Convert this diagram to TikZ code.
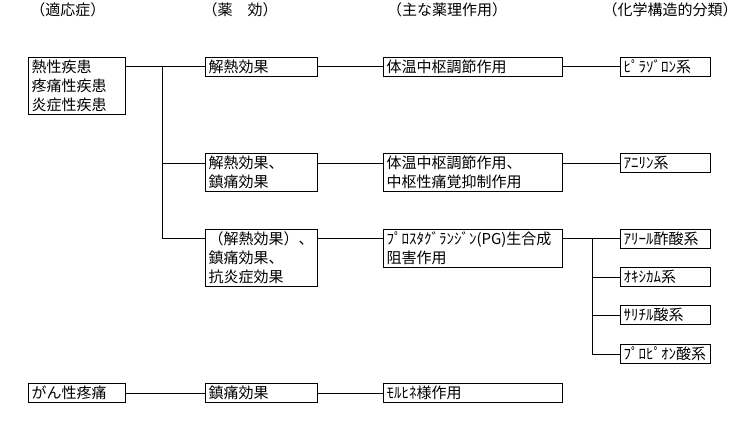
\documentclass[tikz,border=0pt]{standalone}
\usepackage{fontspec}
\setmainfont{Noto Sans CJK JP}
\begin{document}
\begin{tikzpicture}[x=1pt,y=-1pt,line width=1pt,
  box/.style={draw,line width=1pt,anchor=north west,align=left,inner xsep=3pt,inner ysep=0pt,
    font=\fontsize{15}{19}\selectfont},
  boxa/.style={box,text width=91pt},
  boxb/.style={box,text width=106pt},
  boxc/.style={box,text width=173pt},
  boxd/.style={box,text width=84pt},
  hone/.style={minimum height=19pt},
  htwo/.style={minimum height=38pt},
  hthree/.style={minimum height=57pt},
  title/.style={inner sep=0pt,font=\fontsize{15}{19}\selectfont},
  conn/.style={line width=1pt}]
\useasboundingbox (0,0) rectangle (740,424);

% titles
\node[title] (t1) at (68,10) {（適応症）};
\node[title] (t2) at (240,10) {（薬　効）};
\node[title] (t3) at (447,10) {（主な薬理作用）};
\node[title] (t4) at (670,10) {（化学構造的分類）};

% column A
\node[boxa,hthree] (A1) at (28,57) {熱性疾患\\疼痛性疾患\\炎症性疾患};
\node[boxa,hone] (A2) at (28,383) {がん性疼痛};

% column B
\node[boxb,hone] (B1) at (205,57) {解熱効果};
\node[boxb,htwo] (B2) at (205,153) {解熱効果、\\鎮痛効果};
\node[boxb,hthree] (B3) at (205,229) {（解熱効果）、\\鎮痛効果、\\抗炎症効果};
\node[boxb,hone] (B4) at (205,383) {鎮痛効果};

% column C
\node[boxc,hone] (C1) at (383,57) {体温中枢調節作用};
\node[boxc,htwo] (C2) at (383,153) {体温中枢調節作用、\\中枢性痛覚抑制作用};
\node[boxc,htwo] (C3) at (383,229) {ﾌﾟﾛｽﾀｸﾞﾗﾝｼﾞﾝ(PG)生合成\\阻害作用};
\node[boxc,hone] (C4) at (383,383) {ﾓﾙﾋﾈ様作用};

% column D
\node[boxd,hone] (D1) at (620,57) {ﾋﾟﾗｿﾞﾛﾝ系};
\node[boxd,hone] (D2) at (620,153) {ｱﾆﾘﾝ系};
\node[boxd,hone] (D3) at (620,229) {ｱﾘｰﾙ酢酸系};
\node[boxd,hone] (D4) at (620,267) {ｵｷｼｶﾑ系};
\node[boxd,hone] (D5) at (620,305) {ｻﾘﾁﾙ酸系};
\node[boxd,hone] (D6) at (620,344) {ﾌﾟﾛﾋﾟｵﾝ酸系};

% row levels and buses
\coordinate (r1) at (0,66.5);
\coordinate (r2) at (0,163);
\coordinate (r3) at (0,238.5);
\coordinate (bus1) at (162,0);
\coordinate (bus2) at (592,0);

% connectors
\draw[conn] (A1.east |- r1) -- (B1.west |- r1);
\draw[conn] (bus1 |- r1) -- (bus1 |- r3) -- (B3.west |- r3);
\draw[conn] (bus1 |- r2) -- (B2.west |- r2);

\draw[conn] (B1.east |- r1) -- (C1.west |- r1);
\draw[conn] (C1.east |- r1) -- (D1.west |- r1);
\draw[conn] (B2.east |- r2) -- (C2.west |- r2);
\draw[conn] (C2.east |- r2) -- (D2.west |- r2);
\draw[conn] (B3.east |- r3) -- (C3.west |- r3);
\draw[conn] (C3.east |- r3) -- (D3.west |- r3);

\draw[conn] (bus2 |- r3) -- (bus2 |- D6.west) -- (D6.west);
\draw[conn] (bus2 |- D4.west) -- (D4.west);
\draw[conn] (bus2 |- D5.west) -- (D5.west);

\draw[conn] (A2.east) -- (B4.west);
\draw[conn] (B4.east) -- (C4.west);
\end{tikzpicture}
\end{document}
